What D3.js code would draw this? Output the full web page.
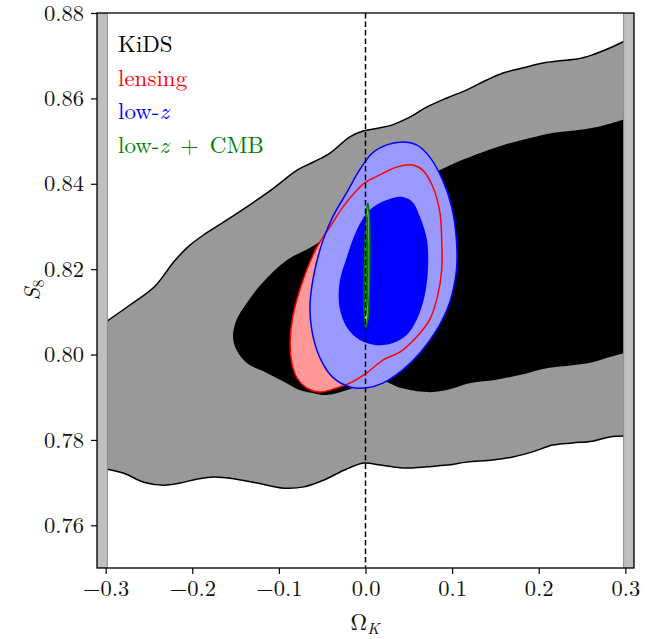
<!DOCTYPE html>
<html>
<head>
<meta charset="utf-8">
<script src="https://cdn.jsdelivr.net/npm/d3@7"></script>
<style>
  body { margin: 0; background: #fff; }
  svg { display: block; }
  svg text { font-family: 'Latin Modern Roman', 'Liberation Serif', serif; }
</style>
</head>
<body>
<svg id="chart" width="665" height="639"></svg>
<script>
// axis ticks
const xTicks = [-0.3, -0.2, -0.1, 0.0, 0.1, 0.2, 0.3];
const yTicks = [0.76, 0.78, 0.80, 0.82, 0.84, 0.86, 0.88];

// KiDS 95% contour: upper and lower edges (spans the whole prior range)
const kidsOuterUpper = [[-0.30,0.8076],[-0.272,0.8116],[-0.244,0.8158],[-0.221,0.8218],[-0.204,0.8254],[-0.187,0.8280],[-0.164,0.8310],[-0.137,0.8346],[-0.106,0.8390],[-0.079,0.8432],[-0.060,0.8451],[-0.041,0.8472],[-0.018,0.8510],[-0.002,0.8524],[0.017,0.8531],[0.031,0.8538],[0.051,0.8556],[0.071,0.8580],[0.094,0.8601],[0.117,0.8620],[0.140,0.8643],[0.158,0.8659],[0.181,0.8671],[0.205,0.8683],[0.224,0.8688],[0.244,0.8692],[0.262,0.8702],[0.282,0.8718],[0.30,0.8735]];
const kidsOuterLower = [[-0.30,0.7732],[-0.279,0.7722],[-0.256,0.7701],[-0.233,0.7694],[-0.214,0.7699],[-0.195,0.7708],[-0.175,0.7713],[-0.149,0.7708],[-0.125,0.7699],[-0.094,0.7687],[-0.071,0.7690],[-0.048,0.7706],[-0.025,0.7729],[-0.002,0.7746],[0.017,0.7741],[0.031,0.7737],[0.051,0.7734],[0.071,0.7737],[0.094,0.7741],[0.117,0.7748],[0.147,0.7753],[0.170,0.7760],[0.193,0.7772],[0.216,0.7788],[0.239,0.7793],[0.262,0.7797],[0.282,0.7807],[0.30,0.7809]];

// KiDS 68% contour, open at the right prior edge
const kidsInner = [[0.30,0.8552],[0.267,0.8533],[0.239,0.8524],[0.216,0.8519],[0.190,0.8507],[0.163,0.8493],[0.135,0.8474],[0.112,0.8456],[0.089,0.8435],[0.051,0.8397],[0.011,0.8350],[-0.030,0.8296],[-0.064,0.8250],[-0.091,0.8221],[-0.119,0.8168],[-0.137,0.8121],[-0.149,0.8081],[-0.153,0.8041],[-0.149,0.8011],[-0.137,0.7980],[-0.114,0.7957],[-0.091,0.7933],[-0.076,0.7917],[-0.061,0.7910],[-0.045,0.7905],[-0.024,0.7915],[-0.001,0.7931],[0.020,0.7938],[0.040,0.7922],[0.071,0.7912],[0.094,0.7917],[0.120,0.7933],[0.147,0.7940],[0.178,0.7952],[0.209,0.7968],[0.239,0.7975],[0.262,0.7982],[0.282,0.7994],[0.30,0.8004]];

// lensing 95% contour
const lensing95 = [[0.0545,0.8444],[0.036,0.8439],[0.0165,0.8421],[0.005,0.8409],[-0.001,0.8402],[-0.010,0.8385],[-0.026,0.8346],[-0.041,0.8299],[-0.056,0.8252],[-0.072,0.8175],[-0.084,0.8088],[-0.087,0.8027],[-0.085,0.7980],[-0.079,0.7945],[-0.068,0.7922],[-0.053,0.7912],[-0.033,0.7922],[-0.018,0.7933],[0.0015,0.7957],[0.020,0.7987],[0.040,0.8006],[0.059,0.8041],[0.074,0.8081],[0.083,0.8135],[0.088,0.8198],[0.088,0.8268],[0.086,0.8332],[0.078,0.8392],[0.066,0.8432]];

// low-z 95% and 68% contours
const lowz95 = [[0.043,0.8498],[0.0245,0.8491],[0.008,0.8472],[-0.007,0.8432],[-0.022,0.8378],[-0.038,0.8322],[-0.049,0.8268],[-0.0585,0.8198],[-0.064,0.8121],[-0.062,0.8057],[-0.053,0.7994],[-0.038,0.7947],[-0.018,0.7924],[0.0015,0.7922],[0.020,0.7933],[0.043,0.7964],[0.063,0.8004],[0.082,0.8057],[0.097,0.8121],[0.105,0.8198],[0.105,0.8268],[0.0995,0.8346],[0.089,0.8409],[0.074,0.8463],[0.059,0.8491]];
const lowz68 = [[0.043,0.8369],[0.0245,0.8362],[0.005,0.8339],[-0.010,0.8292],[-0.0216,0.8228],[-0.030,0.8168],[-0.030,0.8111],[-0.0216,0.8064],[-0.0066,0.8034],[0.013,0.8022],[0.0315,0.8027],[0.0476,0.8046],[0.059,0.8081],[0.068,0.8135],[0.072,0.8198],[0.071,0.8268],[0.063,0.8322],[0.0545,0.8357]];

// low-z + CMB, very narrow
const lowzCmb95 = [[0.0028,0.8355],[0.0042,0.8330],[0.0050,0.8270],[0.0048,0.8200],[0.0040,0.8130],[0.0025,0.8080],[0.0005,0.8063],[-0.0010,0.8080],[-0.0015,0.8150],[-0.0010,0.8220],[0.0000,0.8290],[0.0015,0.8340]];
const lowzCmb68 = [[0.0025,0.8330],[0.0036,0.8260],[0.0034,0.8180],[0.0022,0.8110],[0.0006,0.8090],[-0.0002,0.8130],[0.0000,0.8210],[0.0010,0.8290]];

// prior edges
const priorBands = [[-0.31, -0.298], [0.298, 0.31]];

const legendItems = [
  { parts: [["KiDS", false]], color: "#000" },
  { parts: [["lensing", false]], color: "red" },
  { parts: [["low-", false], ["z", true]], color: "blue" },
  { parts: [["low-", false], ["z", true], ["\u2002+\u2002CMB", false]], color: "green" }
];

const FONT = "'Latin Modern Roman', 'Liberation Serif', serif";
const m = { left: 97, right: 634, top: 13, bottom: 568 };
const x = d3.scaleLinear().domain([-0.31, 0.31]).range([m.left, m.right]);
const y = d3.scaleLinear().domain([0.75, 0.88]).range([m.bottom, m.top]);

const svg = d3.select("#chart");
svg.append("defs").append("clipPath").attr("id", "plotclip")
  .append("rect").attr("x", m.left).attr("y", m.top)
  .attr("width", m.right - m.left).attr("height", m.bottom - m.top);

const plot = svg.append("g").attr("clip-path", "url(#plotclip)");

const openLine = d3.line().x(d => x(d[0])).y(d => y(d[1])).curve(d3.curveCatmullRom.alpha(0.5));
const closedLine = d3.line().x(d => x(d[0])).y(d => y(d[1])).curve(d3.curveCatmullRomClosed.alpha(0.5));

// KiDS
const upPath = openLine(kidsOuterUpper);
const loPath = openLine(kidsOuterLower.slice().reverse());
plot.append("path").attr("d", upPath + "L" + loPath.slice(1) + "Z").attr("fill", "#999999");
plot.append("path").attr("d", openLine(kidsInner) + "Z").attr("fill", "#000");
[kidsOuterUpper, kidsOuterLower].forEach(c => {
  plot.append("path").attr("d", openLine(c)).attr("fill", "none")
    .attr("stroke", "#000").attr("stroke-width", 1.5);
});

// lensing + low-z fills
plot.append("path").attr("d", closedLine(lensing95)).attr("fill", "#ff9999");
plot.append("path").attr("d", closedLine(lowz95)).attr("fill", "#9999ff");
plot.append("path").attr("d", closedLine(lowz68)).attr("fill", "#0000ff");
plot.append("path").attr("d", closedLine(lensing95)).attr("fill", "none")
  .attr("stroke", "red").attr("stroke-width", 1.5);
plot.append("path").attr("d", closedLine(lowz95)).attr("fill", "none")
  .attr("stroke", "blue").attr("stroke-width", 1.5);

// low-z + CMB
plot.append("path").attr("d", closedLine(lowzCmb95)).attr("fill", "#8fc78f")
  .attr("stroke", "green").attr("stroke-width", 1.5);
plot.append("path").attr("d", closedLine(lowzCmb68)).attr("fill", "green");

// flat line
plot.append("line").attr("x1", x(0)).attr("x2", x(0)).attr("y1", m.top).attr("y2", m.bottom)
  .attr("stroke", "#000").attr("stroke-width", 1.5).attr("stroke-dasharray", "5.5,3");

// prior bands
plot.selectAll("rect.band").data(priorBands).join("rect").attr("class", "band")
  .attr("x", d => x(d[0])).attr("width", d => x(d[1]) - x(d[0]))
  .attr("y", m.top).attr("height", m.bottom - m.top)
  .attr("fill", "#bfbfbf").attr("stroke", "#8c8c8c").attr("stroke-width", 1);

// frame
svg.append("rect").attr("x", m.left).attr("y", m.top)
  .attr("width", m.right - m.left).attr("height", m.bottom - m.top)
  .attr("fill", "none").attr("stroke", "#000").attr("stroke-width", 1.3);

const fmt = v => (v < 0 ? "\u2212" : "") + Math.abs(v).toFixed(1);
const xAxis = d3.axisBottom(x).tickValues(xTicks).tickFormat(fmt).tickSize(6).tickPadding(6);
const yAxis = d3.axisLeft(y).tickValues(yTicks).tickFormat(d3.format(".2f")).tickSize(6).tickPadding(7);

const gx = svg.append("g").attr("transform", `translate(0,${m.bottom})`).call(xAxis);
const gy = svg.append("g").attr("transform", `translate(${m.left},0)`).call(yAxis);
[gx, gy].forEach(g => {
  g.attr("font-family", FONT).attr("font-size", 22.5);
  g.select(".domain").remove();
  g.selectAll(".tick line").attr("stroke", "#000").attr("stroke-width", 1.2);
  g.selectAll(".tick text").attr("fill", "#111").style("font-family", FONT).style("font-size", "22.5px");
});

// axis labels
const xl = svg.append("text").attr("x", 365).attr("y", 630).attr("text-anchor", "middle")
  .style("font-family", FONT).style("font-size", "23px").attr("fill", "#111");
xl.append("tspan").text("\u03A9");
xl.append("tspan").attr("font-style", "italic").attr("font-size", "16px").attr("dy", 4).text("K");

const yl = svg.append("text").attr("transform", "translate(40,290) rotate(-90)")
  .attr("text-anchor", "middle").style("font-family", FONT).style("font-size", "23px").attr("fill", "#111");
yl.append("tspan").attr("font-style", "italic").text("S");
yl.append("tspan").attr("font-size", "16px").attr("dy", 4).text("8");

// legend
const lg = svg.append("g");
legendItems.forEach((item, i) => {
  const t = lg.append("text").attr("x", 118).attr("y", 52 + i * 33.7)
    .style("font-family", FONT).style("font-size", "23px").attr("fill", item.color);
  item.parts.forEach(p => {
    t.append("tspan").attr("font-style", p[1] ? "italic" : "normal").text(p[0]);
  });
});
</script>
</body>
</html>
